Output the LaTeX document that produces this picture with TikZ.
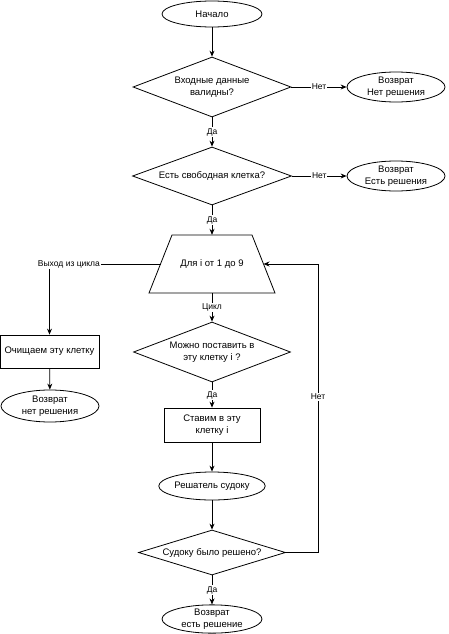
\documentclass[tikz,border=0pt]{standalone}
\usepackage{fontspec}
\setmainfont{Liberation Sans}
\usetikzlibrary{shapes.geometric,arrows.meta}
\begin{document}
\begin{tikzpicture}[x=1pt,y=-1pt,
  nodefont/.style={font=\fontsize{9.5}{11.5}\selectfont},
  term/.style={ellipse, draw, line width=0.8pt, inner sep=0pt, align=center, nodefont},
  proc/.style={rectangle, draw, line width=0.8pt, inner sep=0pt, align=center, nodefont},
  dec/.style={diamond, draw, line width=0.8pt, inner sep=0pt, align=center, nodefont},
  shapeline/.style={draw, line width=0.8pt},
  arr/.style={draw, line width=0.8pt, -{Stealth[length=6pt,width=5pt]}},
  lbl/.style={fill=white, inner sep=1pt, font=\fontsize{8.5}{10}\selectfont}
]
\useasboundingbox (0,0) rectangle (448,634);

\node[term, minimum width=100pt, minimum height=26pt] (start) at (212,14) {Начало};
\node[dec, shape aspect=2.63, minimum width=158pt, minimum height=60pt] (d1) at (212,87) {Входные данные\\валидны?};
\node[term, minimum width=98pt, minimum height=30pt] (r1) at (396,87) {Возврат\\Нет решения};
\node[dec, shape aspect=2.74, minimum width=159pt, minimum height=58pt] (d2) at (212,176) {Есть свободная клетка?};
\node[term, minimum width=98pt, minimum height=30pt] (r2) at (396,176) {Возврат\\Есть решения};
% loop trapezoid
\node[nodefont, minimum width=80pt, minimum height=58pt, inner sep=0pt] (loop) at (212,264) {Для i от 1 до 9};
\draw[shapeline] (172,235) -- (252,235) -- (275,293) -- (149,293) -- cycle;
\coordinate (lw) at (160.5,264);
\coordinate (le) at (263.5,264);
\node[proc, minimum width=99pt, minimum height=33pt] (clear) at (49.5,351.5) {Очищаем эту клетку};
\node[term, minimum width=98pt, minimum height=32pt] (r3) at (50,406) {Возврат\\нет решения};
\node[dec, shape aspect=2.62, minimum width=157pt, minimum height=60pt] (d3) at (212,352) {Можно поставить в\\эту клетку i ?};
\node[proc, minimum width=96pt, minimum height=34pt] (put) at (212,425) {Ставим в эту\\клетку i};
\node[term, minimum width=99pt, minimum height=28pt] (solve) at (212,486) {Решатель судоку};
\node[dec, shape aspect=3.27, minimum width=147pt, minimum height=45pt] (d4) at (212,552.5) {Судоку было решено?};
\node[term, minimum width=100pt, minimum height=26pt] (r4) at (212,619) {Возврат\\есть решение};

\coordinate (c1) at (49.5,264);
\coordinate (c3) at (318,264);

\draw[arr] (start) -- (d1);
\draw[arr] (d1) -- node[lbl]{Нет} (r1);
\draw[arr] (d1) -- node[lbl]{Да} (d2);
\draw[arr] (d2) -- node[lbl]{Нет} (r2);
\draw[arr] (d2) -- node[lbl]{Да} (loop);
\draw[arr] (lw) -- node[lbl, pos=0.825]{Выход из цикла} (c1) -- (clear);
\draw[arr] (clear) -- (r3);
\draw[arr] (loop) -- node[lbl]{Цикл} (d3);
\draw[arr] (d3) -- node[lbl]{Да} (put);
\draw[arr] (put) -- (solve);
\draw[arr] (solve) -- (d4);
\draw[arr] (d4.east) -| node[lbl, pos=0.77]{Нет} (c3) -- (le);
\draw[arr] (d4) -- node[lbl]{Да} (r4);
\end{tikzpicture}
\end{document}
